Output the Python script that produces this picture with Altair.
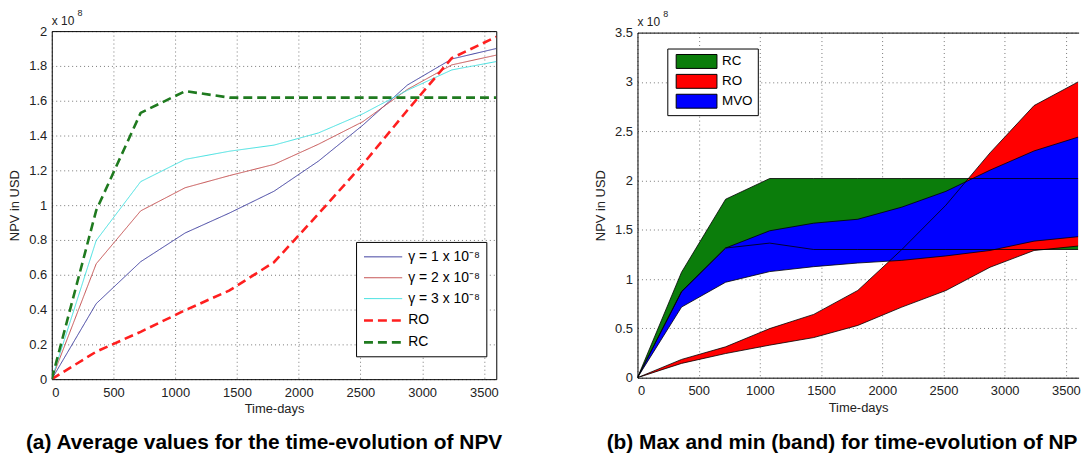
import altair as alt
import pandas as pd

FONT = "Liberation Sans"

# ---------------- data ----------------
days = [0, 360, 720, 1080, 1440, 1800, 2160, 2520, 2880, 3240, 3600]

# panel (a): average NPV (units of 1e8 USD)
gamma1 = [0, 0.434, 0.675, 0.84, 0.955, 1.08, 1.253, 1.46, 1.69, 1.84, 1.90]
gamma2 = [0, 0.663, 0.967, 1.10, 1.17, 1.234, 1.35, 1.48, 1.665, 1.806, 1.862]
gamma3 = [0, 0.797, 1.135, 1.263, 1.31, 1.345, 1.415, 1.525, 1.66, 1.777, 1.825]
ro_avg = [0, 0.158, 0.272, 0.396, 0.51, 0.672, 0.95, 1.235, 1.545, 1.845, 1.967]
rc_avg = [0, 0.97, 1.53, 1.655, 1.618, 1.618, 1.618, 1.618, 1.618, 1.618, 1.618]

series_names = ["γ = 1 x 10⁻⁸", "γ = 2 x 10⁻⁸", "γ = 3 x 10⁻⁸", "RO", "RC"]
series_colors = ["#3d3d9e", "#c45050", "#44e0e0", "#ff1f1f", "#1f7a1f"]
series_dash = [[1, 0], [1, 0], [1, 0], [9, 5], [9, 5]]
series_width = [1, 1, 1, 2.6, 2.6]

# panel (b): max / min bands (units of 1e8 USD)
rc_max = [0, 1.07, 1.81, 2.02, 2.02, 2.02, 2.02, 2.02, 2.02, 2.02, 2.02]
rc_min = [0, 0.87, 1.315, 1.365, 1.30, 1.30, 1.30, 1.30, 1.30, 1.30, 1.30]
ro_max = [0, 0.185, 0.313, 0.498, 0.642, 0.885, 1.30, 1.75, 2.28, 2.76, 3.0]
ro_min = [0, 0.145, 0.245, 0.33, 0.407, 0.53, 0.716, 0.884, 1.12, 1.29, 1.335]
mvo_max = [0, 0.875, 1.315, 1.49, 1.567, 1.607, 1.73, 1.89, 2.105, 2.30, 2.44]
mvo_min = [0, 0.716, 0.968, 1.076, 1.126, 1.163, 1.19, 1.235, 1.29, 1.385, 1.43]

band_names = ["RC", "RO", "MVO"]
band_colors = ["#0b7d0b", "#ff0000", "#0000ff"]

x_ticks = [0, 500, 1000, 1500, 2000, 2500, 3000, 3500]
ya_ticks = [0, 0.2, 0.4, 0.6, 0.8, 1, 1.2, 1.4, 1.6, 1.8, 2]
yb_ticks = [0, 0.5, 1, 1.5, 2, 2.5, 3, 3.5]

CAPTION_A = "(a) Average values for the time-evolution of NPV"
# caption (b) as visible in the (cropped) reference
CAPTION_B = "(b) Max and min (band) for time-evolution of NP"

# ---------------- tables ----------------
rows = []
for name, vals in zip(series_names, [gamma1, gamma2, gamma3, ro_avg, rc_avg]):
    for d, v in zip(days, vals):
        rows.append({"day": d, "npv": v, "series": name})
df_a = pd.DataFrame(rows)

band_rows, edge_rows = [], []
for name, hi, lo in zip(band_names, [rc_max, ro_max, mvo_max], [rc_min, ro_min, mvo_min]):
    for d, h, l in zip(days, hi, lo):
        band_rows.append({"day": d, "hi": h, "lo": l, "band": name})
        edge_rows.append({"day": d, "hi": h, "key": name + "-max"})
        edge_rows.append({"day": d, "hi": l, "key": name + "-min"})
df_b = pd.DataFrame(band_rows)
df_e = pd.DataFrame(edge_rows)
one = pd.DataFrame({"k": [0]})

W_A, H_A = 447, 350
W_B, H_B = 443.6, 347
XMAX_B = 3604

# ---------------- panel (a) ----------------
legend_a = alt.Legend(
    title=None, orient="none", legendX=306, legendY=212,
    symbolType="M-1,0L3.8,0", symbolSize=256, labelOffset=27,
    padding=6.5, rowPadding=5, strokeColor="black", fillColor="white",
    labelFont=FONT, labelFontSize=14, labelColor="black",
)
xa = alt.X("day:Q", scale=alt.Scale(domain=[0, 3600], nice=False),
           axis=alt.Axis(values=x_ticks, format="d", title="Time-days"))
ya = alt.Y("npv:Q", scale=alt.Scale(domain=[0, 2], nice=False),
           axis=alt.Axis(values=ya_ticks, format="~g", title="NPV in USD"))

lines_a = alt.Chart(df_a).mark_line(clip=True).encode(
    x=xa, y=ya,
    color=alt.Color("series:N", sort=series_names,
                    scale=alt.Scale(domain=series_names, range=series_colors), legend=legend_a),
    strokeDash=alt.StrokeDash("series:N", sort=series_names,
                              scale=alt.Scale(domain=series_names, range=series_dash), legend=legend_a),
    strokeWidth=alt.StrokeWidth("series:N", sort=series_names,
                                scale=alt.Scale(type="ordinal", domain=series_names, range=series_width),
                                legend=legend_a),
)
frame_a = alt.Chart(df_a).mark_point(opacity=0, size=1).encode(
    x=alt.X("day:Q", axis=alt.Axis(orient="top", labels=False, grid=False, title=None)),
    y=alt.Y("npv:Q", axis=alt.Axis(orient="right", labels=False, grid=False, title=None)),
)

def exponent(top):
    base = alt.Chart(one).mark_text(align="left", baseline="middle", font=FONT, fontSize=12, color="#222").encode(
        x=alt.value(0), y=alt.value(top), text=alt.value("x 10"))
    sup = alt.Chart(one).mark_text(align="left", baseline="middle", font=FONT, fontSize=9, color="#222").encode(
        x=alt.value(26), y=alt.value(top - 8), text=alt.value("8"))
    return base, sup

ea1, ea2 = exponent(-10)
cap_a = alt.Chart(one).mark_text(align="center", baseline="middle", font=FONT, fontSize=21,
                                 fontWeight="bold", color="black").encode(
    x=alt.value(W_A / 2 - 10), y=alt.value(414), text=alt.value(CAPTION_A))

panel_a = alt.layer(lines_a, frame_a, ea1, ea2, cap_a).resolve_axis(
    x="independent", y="independent").properties(width=W_A, height=H_A)

# ---------------- panel (b) ----------------
legend_b = alt.Legend(
    title=None, orient="none", legendX=30, legendY=16,
    symbolType="M-0.51,-0.875L4.615,-0.875L4.615,0.875L-0.51,0.875Z", symbolSize=256, labelOffset=33.5,
    padding=4.5, rowPadding=1, strokeColor="black", fillColor="white",
    symbolStrokeColor="black", symbolStrokeWidth=1, symbolOpacity=1,
    labelFont=FONT, labelFontSize=13.5, labelColor="black",
)
sx_b = alt.Scale(domain=[0, XMAX_B], nice=False)
sy_b = alt.Scale(domain=[0, 3.5], nice=False)
fill_b = alt.Fill("band:N", sort=band_names,
                  scale=alt.Scale(domain=band_names, range=band_colors), legend=legend_b)

areas = []
for i, name in enumerate(band_names):
    if i == 0:
        xb = alt.X("day:Q", scale=sx_b, axis=alt.Axis(values=x_ticks, format="d", title="Time-days"))
        yb = alt.Y("hi:Q", scale=sy_b, axis=alt.Axis(values=yb_ticks, format="~g", title="NPV in USD"))
    else:
        xb = alt.X("day:Q", scale=sx_b, axis=None)
        yb = alt.Y("hi:Q", scale=sy_b, axis=None)
    areas.append(
        alt.Chart(df_b).transform_filter(alt.datum.band == name).mark_area(clip=True, opacity=1).encode(
            x=xb, y=yb, y2="lo:Q", fill=fill_b)
    )
edges = alt.Chart(df_e).mark_line(clip=True, color="black", strokeWidth=0.8).encode(
    x=alt.X("day:Q", scale=sx_b, axis=None),
    y=alt.Y("hi:Q", scale=sy_b, axis=None),
    detail="key:N")
frame_b = alt.Chart(df_b).mark_point(opacity=0, size=1).encode(
    x=alt.X("day:Q", scale=sx_b, axis=alt.Axis(orient="top", labels=False, grid=False, title=None)),
    y=alt.Y("hi:Q", scale=sy_b, axis=None),
)
eb1, eb2 = exponent(-11)
cap_b = alt.Chart(one).mark_text(align="left", baseline="middle", font=FONT, fontSize=21,
                                 fontWeight="bold", color="black").encode(
    x=alt.value(-31), y=alt.value(412.5), text=alt.value(CAPTION_B))

panel_b = alt.layer(*areas, edges, frame_b, eb1, eb2, cap_b).resolve_axis(
    x="independent", y="independent").properties(width=W_B, height=H_B)

chart = alt.hconcat(panel_a, panel_b, spacing=142, bounds="flush", center=True).resolve_legend(
    color="independent", strokeDash="independent", strokeWidth="independent", fill="independent"
).properties(
    padding={"left": 0, "top": 0, "right": 0, "bottom": 0}
).configure_view(stroke=None).configure_axis(
    labelFont=FONT, labelFontSize=13, labelColor="#222", labelPadding=5,
    titleFont=FONT, titleFontSize=13, titleFontWeight="normal", titleColor="#222",
    domainColor="black", domainWidth=1, ticks=False, tickSize=0,
    gridColor="#444", gridDash=[1, 3], gridWidth=0.8, gridOpacity=0.9,
).configure_axisY(titlePadding=7).configure_axisX(titlePadding=4, labelPadding=7)

chart.save("out.html", embed_options={"renderer": "svg", "actions": False})
